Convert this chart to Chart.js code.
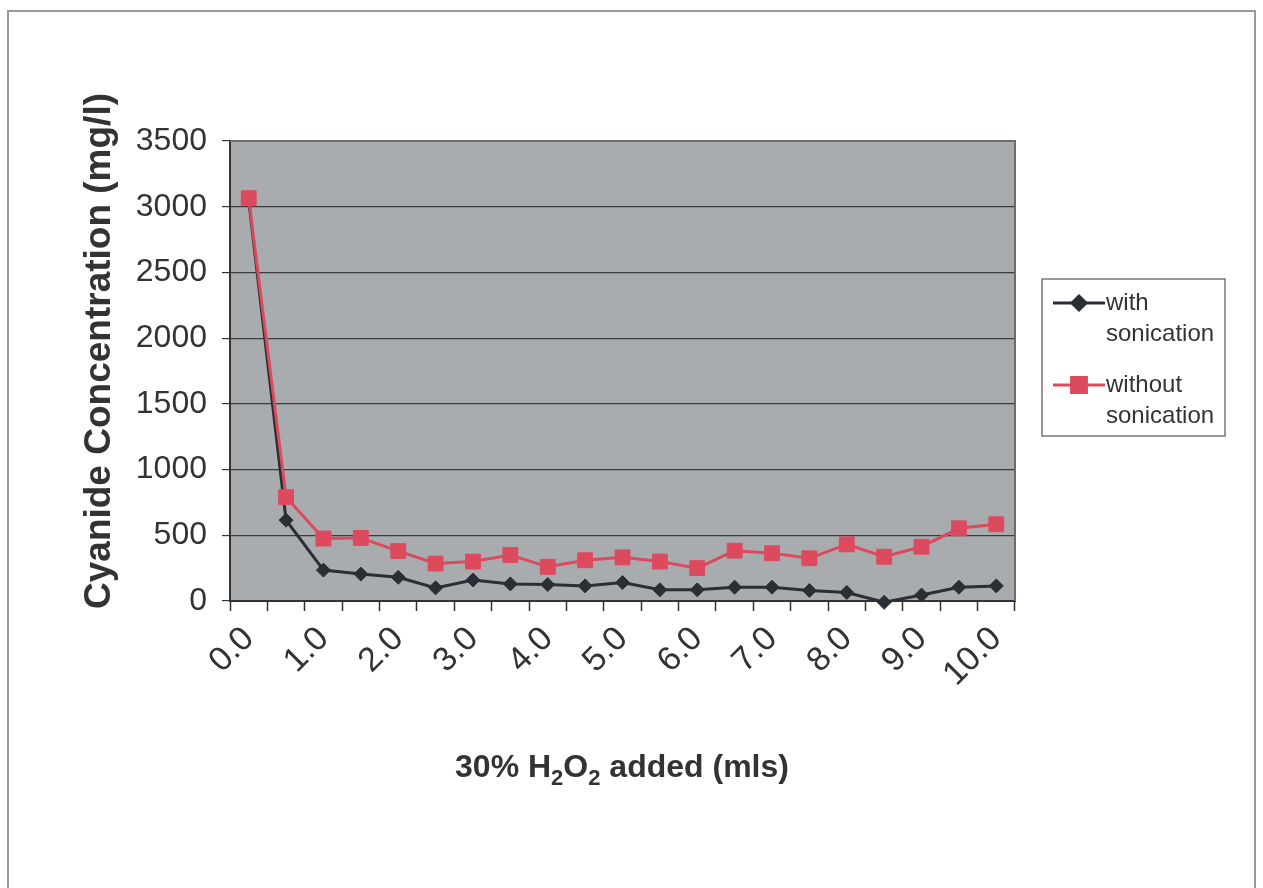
<!DOCTYPE html>
<html>
<head>
<meta charset="utf-8">
<script src="https://cdn.jsdelivr.net/npm/chart.js@4.4.1/dist/chart.umd.min.js"></script>
<style>
  html, body { margin: 0; padding: 0; background: #fff; }
  #wrap { position: relative; width: 1263px; height: 888px; }
</style>
</head>
<body>
<div id="wrap"><canvas id="cyanideChart"></canvas></div>
<script>
const xLabels = ['0.0', '0.5', '1.0', '1.5', '2.0', '2.5', '3.0', '3.5', '4.0', '4.5', '5.0',
                 '5.5', '6.0', '6.5', '7.0', '7.5', '8.0', '8.5', '9.0', '9.5', '10.0'];
const withSonication = [3050, 615, 235, 205, 180, 100, 160, 130, 125, 115, 140,
                        85, 85, 105, 105, 80, 65, -10, 45, 105, 115];
const withoutSonication = [3065, 790, 475, 480, 380, 285, 300, 350, 260, 310, 332,
                           300, 250, 383, 363, 325, 431, 337, 413, 553, 584];
const yTicks = [0, 500, 1000, 1500, 2000, 2500, 3000, 3500];

const FONT = '"Liberation Sans", Arial, sans-serif';
const plotBg = '#a9acaf';
const darkLine = '#2b2e35';
const redLine = '#dd4a5e';

// Frame, plot background and plot border
const framePlugin = {
    id: 'frame',
    beforeDraw(chart) {
        const c = chart.ctx;
        const a = chart.chartArea;
        c.save();
        c.strokeStyle = '#9a9a9a';
        c.lineWidth = 2;
        c.beginPath();
        c.moveTo(8, 900);
        c.lineTo(8, 11);
        c.lineTo(1255, 11);
        c.lineTo(1255, 900);
        c.stroke();
        c.fillStyle = plotBg;
        c.fillRect(a.left, a.top, a.right - a.left, a.bottom - a.top);
        c.restore();
    },
    beforeDatasetsDraw(chart) {
        const c = chart.ctx;
        const a = chart.chartArea;
        c.save();
        c.strokeStyle = '#6a6c70';
        c.lineWidth = 2;
        c.beginPath();
        c.moveTo(a.left, a.top);
        c.lineTo(a.right, a.top);
        c.lineTo(a.right, a.bottom);
        c.stroke();
        c.restore();
    }
};

// Axis titles (x title needs subscripts)
const titlesPlugin = {
    id: 'titles',
    afterDraw(chart) {
        const c = chart.ctx;
        c.save();
        c.fillStyle = '#333';
        // y title
        c.translate(100, 351);
        c.rotate(-Math.PI / 2);
        c.font = 'bold 37px ' + FONT;
        c.textAlign = 'center';
        c.textBaseline = 'middle';
        c.fillText('Cyanide Concentration (mg/l)', 0, 0);
        c.restore();

        c.save();
        c.fillStyle = '#333';
        c.textBaseline = 'alphabetic';
        c.textAlign = 'left';
        const big = 'bold 32px ' + FONT;
        const small = 'bold 22px ' + FONT;
        const parts = [['30% H', big, 0], ['2', small, 8], ['O', big, 0], ['2', small, 8], [' added (mls)', big, 0]];
        let total = 0;
        parts.forEach(p => { c.font = p[1]; total += c.measureText(p[0]).width; });
        let x = 622 - total / 2;
        parts.forEach(p => {
            c.font = p[1];
            c.fillText(p[0], x, 777 + p[2]);
            x += c.measureText(p[0]).width;
        });
        c.restore();
    }
};

// Boxed legend with wrapped labels
const legendPlugin = {
    id: 'boxLegend',
    afterDraw(chart) {
        const c = chart.ctx;
        c.save();
        c.fillStyle = '#fff';
        c.fillRect(1042, 279, 183, 157);
        c.strokeStyle = '#555';
        c.lineWidth = 1.2;
        c.strokeRect(1042, 279, 183, 157);
        const rows = [303, 385];
        chart.data.datasets.forEach((ds, i) => {
            const y = rows[i];
            c.strokeStyle = ds.borderColor;
            c.lineWidth = 3;
            c.beginPath();
            c.moveTo(1053, y);
            c.lineTo(1105, y);
            c.stroke();
            Chart.helpers.drawPoint(c, {
                pointStyle: ds.pointStyle,
                radius: ds.pointRadius,
                borderWidth: 1
            }, 1079, y);
            c.fillStyle = ds.backgroundColor;
            c.fill();
            c.font = '24px ' + FONT;
            c.fillStyle = '#333';
            c.textBaseline = 'middle';
            c.textAlign = 'left';
            ds.label.split('\n').forEach((line, k) => {
                c.fillText(line, 1106, y + k * 31);
            });
        });
        c.restore();
    }
};

const ctx = document.getElementById('cyanideChart').getContext('2d');
const chart = new Chart(ctx, {
    type: 'line',
    data: {
        labels: xLabels,
        datasets: [
            {
                label: 'with\nsonication',
                data: withSonication,
                borderColor: darkLine,
                backgroundColor: darkLine,
                borderWidth: 3,
                pointStyle: 'rectRot',
                pointRadius: 7,
                pointBorderWidth: 1,
                tension: 0,
                clip: false,
                order: 2
            },
            {
                label: 'without\nsonication',
                data: withoutSonication,
                borderColor: redLine,
                backgroundColor: redLine,
                borderWidth: 3,
                pointStyle: 'rect',
                pointRadius: 10.5,
                pointBorderWidth: 1,
                tension: 0,
                clip: false,
                order: 1
            }
        ]
    },
    options: {
        responsive: true,
        maintainAspectRatio: false,
        animation: false,
        devicePixelRatio: 1,
        layout: { padding: { left: 0, top: 141, right: 248, bottom: 0 } },
        plugins: {
            legend: { display: false },
            tooltip: { enabled: false }
        },
        scales: {
            x: {
                offset: true,
                grid: {
                    offset: true,
                    drawOnChartArea: false,
                    drawTicks: true,
                    tickLength: 10,
                    tickColor: '#333',
                    tickWidth: 1.5
                },
                border: { color: '#333', width: 2 },
                ticks: {
                    autoSkip: false,
                    minRotation: 45,
                    maxRotation: 45,
                    padding: 8,
                    color: '#333',
                    font: { family: FONT, size: 34 },
                    callback: function (val, index) {
                        return index % 2 === 0 ? this.getLabelForValue(val) : '';
                    }
                },
                afterFit: scale => { scale.height = 287; }
            },
            y: {
                min: 0,
                max: 3500,
                afterBuildTicks: scale => { scale.ticks = yTicks.map(v => ({ value: v })); },
                grid: {
                    color: '#3a3c40',
                    lineWidth: 1.2,
                    tickLength: 8,
                    tickColor: '#333'
                },
                border: { color: '#333', width: 2 },
                ticks: {
                    padding: 15,
                    color: '#333',
                    font: { family: FONT, size: 32 },
                    callback: v => String(v)
                },
                afterFit: scale => { scale.width = 230; }
            }
        }
    },
    plugins: [framePlugin, titlesPlugin, legendPlugin]
});
</script>
</body>
</html>
